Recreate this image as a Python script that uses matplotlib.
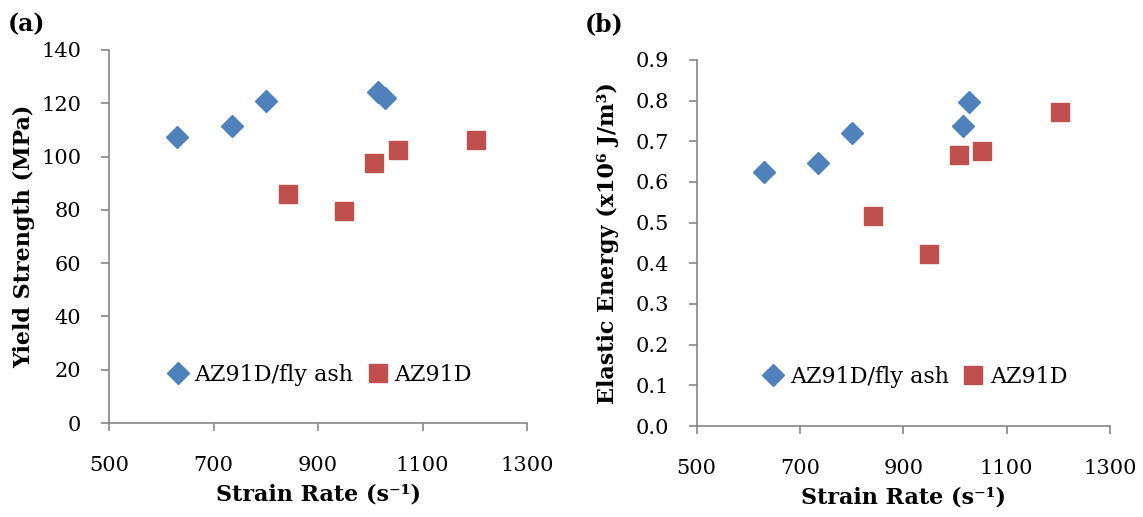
import matplotlib.pyplot as plt

# Datos
rate_ash = [630, 735, 800, 1015, 1028]
ys_ash = [107.5, 111.6, 120.9, 124.4, 121.9]
ee_ash = [0.625, 0.647, 0.720, 0.738, 0.797]

rate_az = [842, 950, 1008, 1053, 1203]
ys_az = [86.1, 79.7, 97.5, 102.5, 106.3]
ee_az = [0.517, 0.422, 0.666, 0.677, 0.773]

azul = '#4F81BD'
rojo = '#C0504D'
gris = '#868686'

plt.rcParams['font.family'] = 'DejaVu Serif'

fig = plt.figure(figsize=(11.43, 5.17), dpi=100)
ax1 = fig.add_axes([0.0954, 0.1818, 0.3657, 0.7215])
ax2 = fig.add_axes([0.6095, 0.176, 0.3616, 0.708])

def estilo(ax):
    for s in ['top', 'right']:
        ax.spines[s].set_visible(False)
    for s in ['left', 'bottom']:
        ax.spines[s].set_color(gris)
        ax.spines[s].set_linewidth(1.2)
    ax.tick_params(axis='both', colors=gris, length=6, width=1.2, labelsize=15, labelcolor='black')
    ax.tick_params(axis='x', pad=18)
    ax.tick_params(axis='y', pad=14)
    ax.set_xlim(500, 1300)
    ax.set_xticks(range(500, 1301, 200))
    ax.set_xlabel('Strain Rate (s⁻¹)', fontsize=16, fontweight='bold', labelpad=6)

# (a) Yield strength
ax1.plot(rate_ash, ys_ash, 'D', color=azul, markersize=11, linestyle='none', label='AZ91D/fly ash')
ax1.plot(rate_az, ys_az, 's', color=rojo, markersize=13, linestyle='none', label='AZ91D')
estilo(ax1)
ax1.set_ylim(0, 140)
ax1.set_yticks(range(0, 141, 20))
ax1.set_ylabel('Yield Strength (MPa)', fontsize=16, fontweight='bold', labelpad=4)
ax1.legend(loc='center', bbox_to_anchor=(0.5, 0.13), ncol=2, frameon=False, fontsize=16,
           handletextpad=0.15, columnspacing=0.5, borderaxespad=0, handlelength=1.2)

# (b) Elastic energy
ax2.plot(rate_ash, ee_ash, 'D', color=azul, markersize=11, linestyle='none', label='AZ91D/fly ash')
ax2.plot(rate_az, ee_az, 's', color=rojo, markersize=13, linestyle='none', label='AZ91D')
estilo(ax2)
ax2.set_ylim(0, 0.9)
ax2.set_yticks([i / 10 for i in range(10)])
ax2.set_yticklabels([f'{i / 10:.1f}' for i in range(10)])
ax2.set_ylabel('Elastic Energy (x10⁶ J/m³)', fontsize=16, fontweight='bold', labelpad=12)
ax2.legend(loc='center', bbox_to_anchor=(0.525, 0.135), ncol=2, frameon=False, fontsize=16,
           handletextpad=0.15, columnspacing=0.5, borderaxespad=0, handlelength=1.2)

fig.text(0.007, 0.94, '(a)', fontsize=17, fontweight='bold')
fig.text(0.512, 0.94, '(b)', fontsize=17, fontweight='bold')

plt.savefig('out.png', dpi=100)
